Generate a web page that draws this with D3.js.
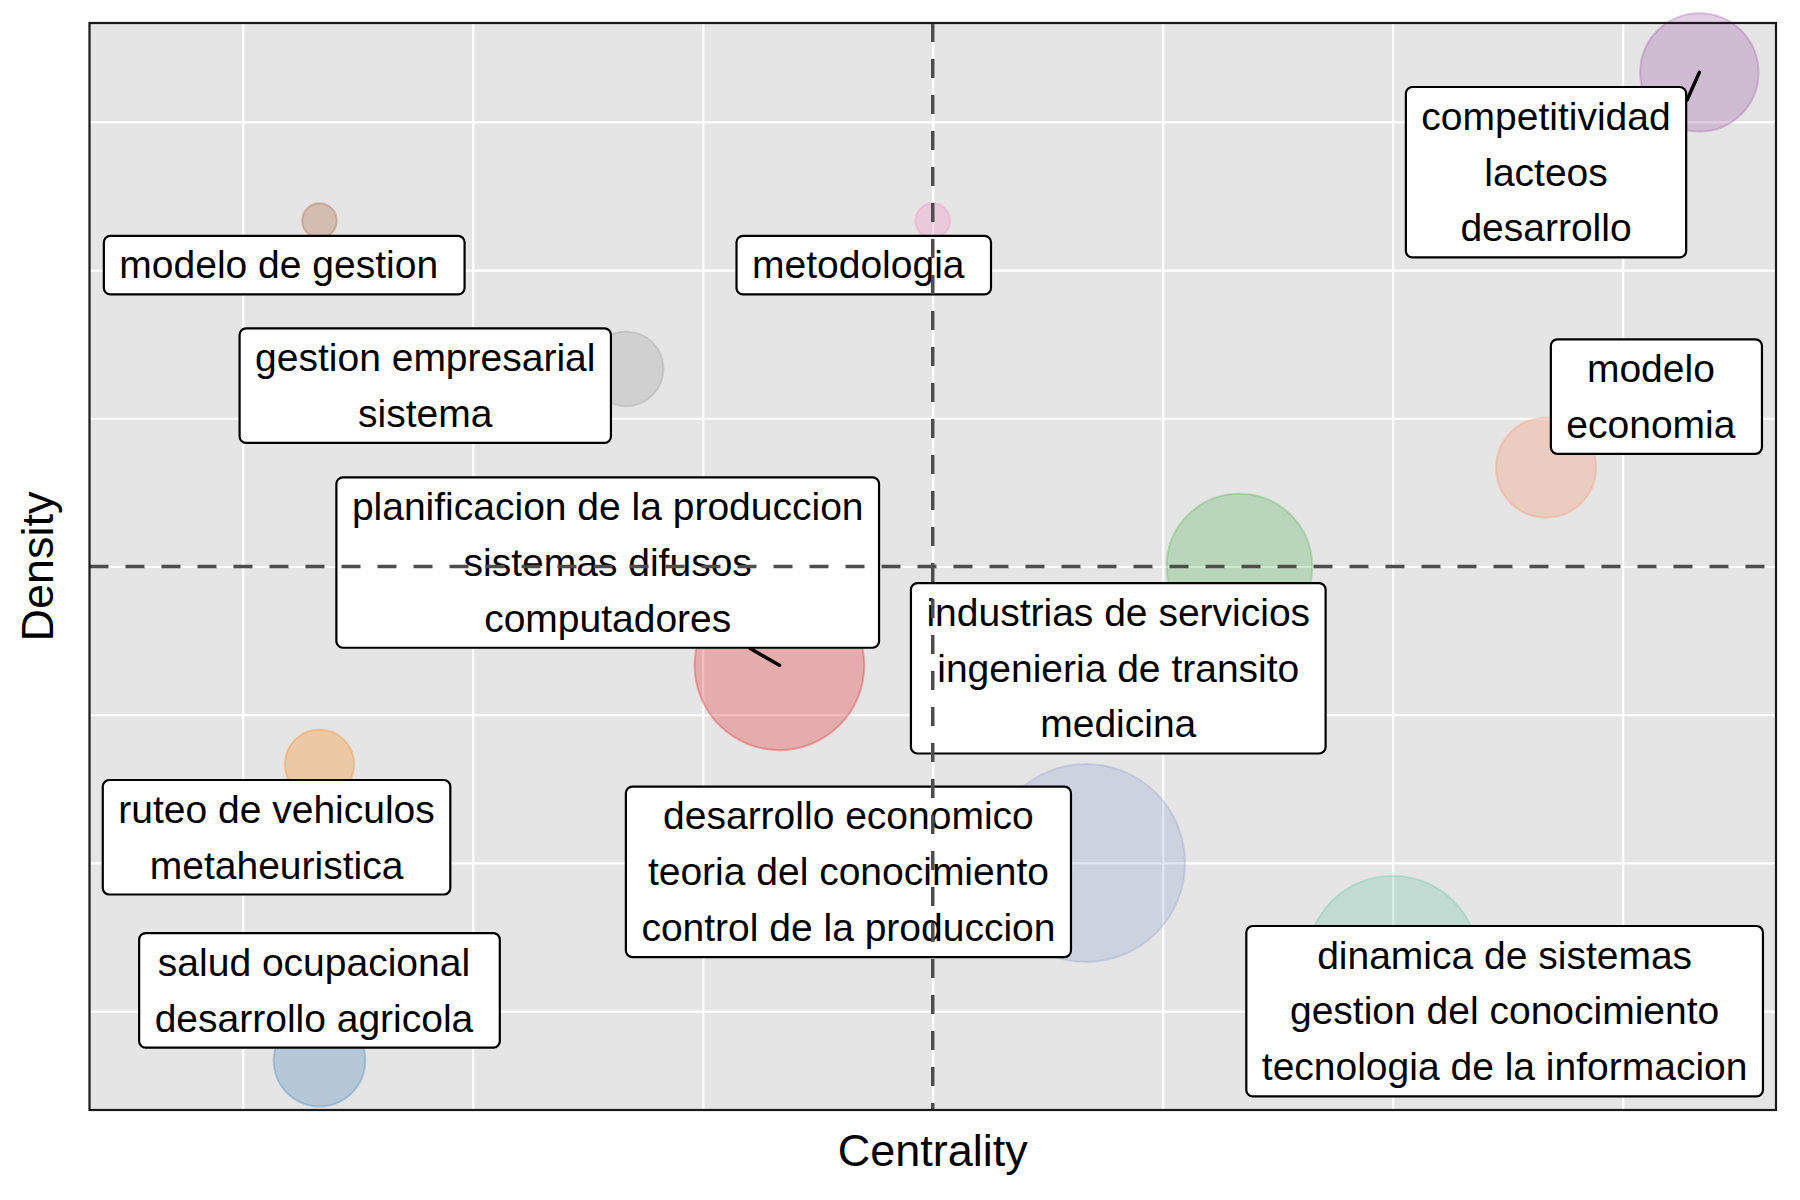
<!DOCTYPE html>
<html>
<head>
<meta charset="utf-8">
<script src="https://cdn.jsdelivr.net/npm/d3@7/dist/d3.min.js"></script>
<style>
  html, body { margin: 0; padding: 0; background: #ffffff; }
  svg { display: block; font-family: "Liberation Sans", Arial, Helvetica, sans-serif; }
</style>
</head>
<body>
<svg id="chart" width="1800" height="1200"></svg>
<script>
// ---- data (cluster themes: centrality rank, density rank, frequency) ----
const clusterLabels = [
  ["competitividad", "lacteos", "desarrollo"],
  ["metodologia"],
  ["modelo de gestion"],
  ["gestion empresarial", "sistema"],
  ["modelo", "economia"],
  ["industrias de servicios", "ingenieria de transito", "medicina"],
  ["planificacion de la produccion", "sistemas difusos", "computadores"],
  ["ruteo de vehiculos", "metaheuristica"],
  ["desarrollo economico", "teoria del conocimiento", "control de la produccion"],
  ["dinamica de sistemas", "gestion del conocimiento", "tecnologia de la informacion"],
  ["salud ocupacional", "desarrollo agricola"]
];
const centrality = [11, 6, 2, 4, 10, 8, 5, 2, 7, 9, 2];
const density    = [11, 9.5, 9.5, 8, 7, 6, 5, 4, 3, 2, 1];
const freq       = [35, 3, 3, 14, 25, 53, 72, 12, 98, 74, 21];
const clusterColors = ["#984EA3", "#F781BF", "#A65628", "#999999", "#FC8D62", "#4DAF4A",
                       "#E41A1C", "#FF7F00", "#8DA0CB", "#66C2A5", "#377EB8"];
const gridTicks = [1.5, 3, 4.5, 6, 7.5, 9, 10.5];
const xTitle = "Centrality";
const yTitle = "Density";

// ---- label layout (repelled label centres, in data units) ----
const labelX = [10.0, 5.55, 1.77, 2.69, 10.72, 7.21, 3.88, 1.72, 5.45, 9.73, 2.00];
const labelY = [9.99, 9.05, 9.05, 7.83, 7.72, 4.97, 6.04, 3.26, 2.91, 1.50, 1.71];
const labelExtraPad = [0, 11, 11, 0, 11, 0, 0, 0, 0, 0, 11];
const segEnd = { 0: [10.92, 10.72], 6: [4.81, 5.17] };

// ---- layout ----
const panel = { left: 89.5, right: 1776, top: 23, bottom: 1110 };
const svg = d3.select("#chart");

const x = d3.scaleLinear().domain([0.5, 11.5]).range([panel.left, panel.right]);
const y = d3.scaleLinear().domain([0.5, 11.5]).range([panel.bottom, panel.top]);
const r = d3.scaleSqrt().domain([0, d3.max(freq)]).range([0, 99]);

const data = clusterLabels.map((lab, i) => ({
  lab, cx: centrality[i], cy: density[i], f: freq[i], col: clusterColors[i],
  lx: labelX[i], ly: labelY[i], extra: labelExtraPad[i], seg: segEnd[i]
}));

// panel background
svg.append("rect")
  .attr("x", panel.left).attr("y", panel.top)
  .attr("width", panel.right - panel.left).attr("height", panel.bottom - panel.top)
  .attr("fill", "#E5E5E5");

// gridlines via axes
const gx = svg.append("g")
  .attr("transform", `translate(0,${panel.bottom})`)
  .call(d3.axisBottom(x).tickValues(gridTicks).tickSize(-(panel.bottom - panel.top)).tickFormat(""));
const gy = svg.append("g")
  .attr("transform", `translate(${panel.left},0)`)
  .call(d3.axisLeft(y).tickValues(gridTicks).tickSize(-(panel.right - panel.left)).tickFormat(""));
[gx, gy].forEach(g => {
  g.select(".domain").remove();
  g.selectAll(".tick line").attr("stroke", "#ffffff").attr("stroke-width", 2.2);
});

// bubbles
svg.append("g").selectAll("circle")
  .data(data).join("circle")
  .attr("cx", d => x(d.cx)).attr("cy", d => y(d.cy)).attr("r", d => r(d.f))
  .attr("fill", d => d.col).attr("fill-opacity", 0.28)
  .attr("stroke", d => d.col).attr("stroke-opacity", 0.3).attr("stroke-width", 2);

// segments
svg.append("g").selectAll("line")
  .data(data.filter(d => d.seg)).join("line")
  .attr("x1", d => x(d.cx)).attr("y1", d => y(d.cy))
  .attr("x2", d => x(d.seg[0])).attr("y2", d => y(d.seg[1]))
  .attr("stroke", "#000").attr("stroke-width", 3.5).attr("stroke-linecap", "round");

// labels
const fontSize = 39, lineStep = 55.9, firstBase = 42.6, padX = 15.5, oneLineH = 58.6;
const lg = svg.append("g");
data.forEach(d => {
  const g = lg.append("g");
  const rect = g.append("rect");
  const t = g.append("text").attr("font-size", fontSize).attr("fill", "#000").attr("text-anchor", "middle");
  const spans = d.lab.map((s, k) => t.append("tspan").text(s));
  const tw = d3.max(spans, sp => sp.node().getComputedTextLength());
  const W = tw + 2 * padX + d.extra;
  const H = oneLineH + (d.lab.length - 1) * lineStep;
  const left = x(d.lx) - W / 2, top = y(d.ly) - H / 2;
  rect.attr("x", left).attr("y", top).attr("width", W).attr("height", H)
    .attr("rx", 6.5).attr("ry", 6.5)
    .attr("fill", "#ffffff").attr("stroke", "#000").attr("stroke-width", 2.2);
  const tcx = left + padX + tw / 2;
  spans.forEach((sp, k) => sp.attr("x", tcx).attr("y", top + firstBase + k * lineStep));
});

// mean reference lines (dashed, on top)
const mx = d3.mean(centrality), my = d3.mean(density);
svg.append("line")
  .attr("x1", x(mx)).attr("x2", x(mx)).attr("y1", panel.top).attr("y2", panel.bottom)
  .attr("stroke", "#4D4D4D").attr("stroke-width", 3.5).attr("stroke-dasharray", "19,17");
svg.append("line")
  .attr("x1", panel.left).attr("x2", panel.right).attr("y1", y(my)).attr("y2", y(my))
  .attr("stroke", "#4D4D4D").attr("stroke-width", 3.5).attr("stroke-dasharray", "19,17");

// panel border
svg.append("rect")
  .attr("x", panel.left).attr("y", panel.top)
  .attr("width", panel.right - panel.left).attr("height", panel.bottom - panel.top)
  .attr("fill", "none").attr("stroke", "#1a1a1a").attr("stroke-width", 2.2);

// axis titles
svg.append("text")
  .attr("x", (panel.left + panel.right) / 2).attr("y", 1166)
  .attr("text-anchor", "middle").attr("font-size", 45).attr("fill", "#000")
  .text(xTitle);
svg.append("text")
  .attr("transform", `translate(53,${(panel.top + panel.bottom) / 2}) rotate(-90)`)
  .attr("text-anchor", "middle").attr("font-size", 45).attr("fill", "#000")
  .text(yTitle);
</script>
</body>
</html>
